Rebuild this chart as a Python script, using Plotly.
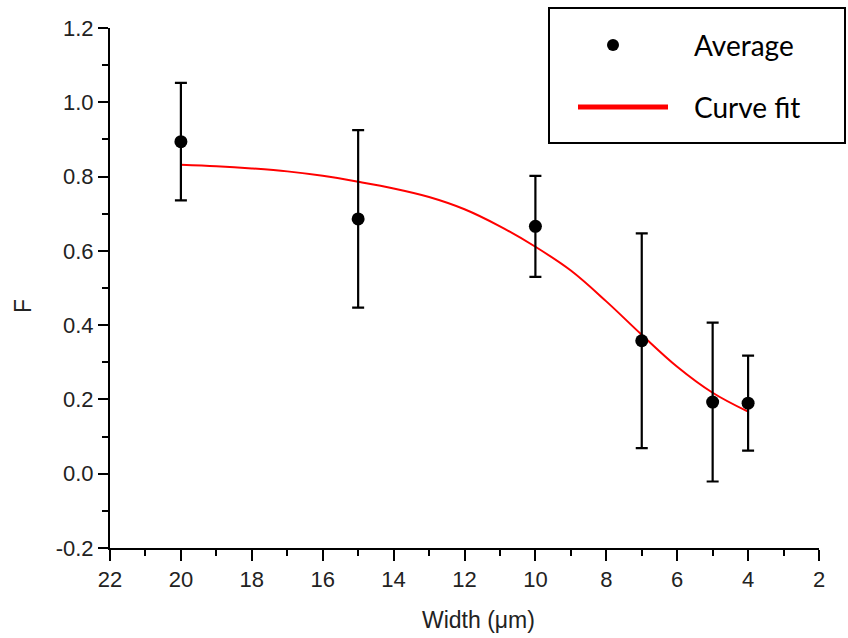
import plotly.graph_objects as go

# Data
width_um = [20, 15, 10, 7, 5, 4]
f_avg = [0.894, 0.686, 0.666, 0.358, 0.193, 0.190]
f_err = [0.158, 0.239, 0.136, 0.289, 0.214, 0.128]

fit_x = [20, 19, 18, 17, 16, 15, 14, 13, 12, 11, 10, 9, 8, 7, 6, 5, 4]
fit_y = [0.832, 0.828, 0.822, 0.814, 0.802, 0.786, 0.768, 0.745, 0.712, 0.666, 0.611, 0.547, 0.464, 0.374, 0.288, 0.218, 0.167]

x_ticks = [22, 20, 18, 16, 14, 12, 10, 8, 6, 4, 2]
y_ticks = [-0.2, 0.0, 0.2, 0.4, 0.6, 0.8, 1.0, 1.2]

W, H = 848, 638
L, R, T, B = 110, 29, 28, 90
pw, ph = W - L - R, H - T - B


def px(x):
    return (x - L) / pw


def py(y):
    return (H - B - y) / ph


fig = go.Figure()
fig.add_trace(go.Scatter(
    x=fit_x, y=fit_y, mode="lines",
    line=dict(color="#ff0000", width=2, shape="spline", smoothing=1.0),
    showlegend=False, hoverinfo="skip"))
fig.add_trace(go.Scatter(
    x=width_um, y=f_avg, mode="markers",
    marker=dict(color="black", size=13),
    error_y=dict(type="data", array=f_err, color="black", thickness=2.2, width=6),
    showlegend=False))

tickfont = dict(family="Liberation Sans, Arial", size=22, color="#222")
fig.update_xaxes(
    range=[22, 2], tickmode="array", tickvals=x_ticks, ticktext=[str(v) for v in x_ticks],
    showgrid=False, zeroline=False, showline=True, linecolor="black", linewidth=2,
    ticks="outside", ticklen=11, tickwidth=2, tickcolor="black", tickfont=tickfont,
    minor=dict(ticks="outside", ticklen=6, tickwidth=2, tickcolor="black", dtick=1, tick0=0, showgrid=False),
)
fig.update_yaxes(
    range=[-0.2, 1.2], tickmode="array", tickvals=y_ticks, ticktext=[f"{v:.1f}" for v in y_ticks],
    showgrid=False, zeroline=False, showline=True, linecolor="black", linewidth=2,
    ticks="outside", ticklen=10, tickwidth=2, tickcolor="black", tickfont=tickfont,
    minor=dict(ticks="outside", ticklen=6, tickwidth=2, tickcolor="black", dtick=0.1, tick0=0, showgrid=False),
)

shapes = [
    dict(type="rect", xref="paper", yref="paper", x0=px(549), x1=px(845), y0=py(143), y1=py(8),
         line=dict(color="black", width=2), fillcolor="white", layer="above"),
    dict(type="circle", xref="paper", yref="paper", x0=px(607), x1=px(619), y0=py(51), y1=py(39),
         line=dict(color="black", width=0), fillcolor="black", layer="above"),
    dict(type="line", xref="paper", yref="paper", x0=px(578), x1=px(668), y0=py(107), y1=py(107),
         line=dict(color="#ff0000", width=5), layer="above"),
]

legfont = dict(family="Lato", size=28, color="black")
axfont = dict(family="Liberation Sans, Arial", size=23, color="#222")
annotations = [
    dict(text="Average", xref="paper", yref="paper", x=px(692), y=py(45), xanchor="left", yanchor="middle",
         showarrow=False, font=legfont),
    dict(text="Curve fit", xref="paper", yref="paper", x=px(692), y=py(107), xanchor="left", yanchor="middle",
         showarrow=False, font=legfont),
    dict(text="Width (\u03bcm)", xref="paper", yref="paper", x=px(478), y=py(620), xanchor="center", yanchor="middle",
         showarrow=False, font=axfont),
    dict(text="F", xref="paper", yref="paper", x=px(23), y=py(306), xanchor="center", yanchor="middle",
         showarrow=False, textangle=-90, font=axfont),
]

fig.update_layout(
    width=W, height=H, margin=dict(l=L, r=R, t=T, b=B),
    plot_bgcolor="white", paper_bgcolor="white",
    shapes=shapes, annotations=annotations, showlegend=False,
)

fig.write_html("out.html", post_script="document.body.style.margin='0';",
               config={"displayModeBar": False})
